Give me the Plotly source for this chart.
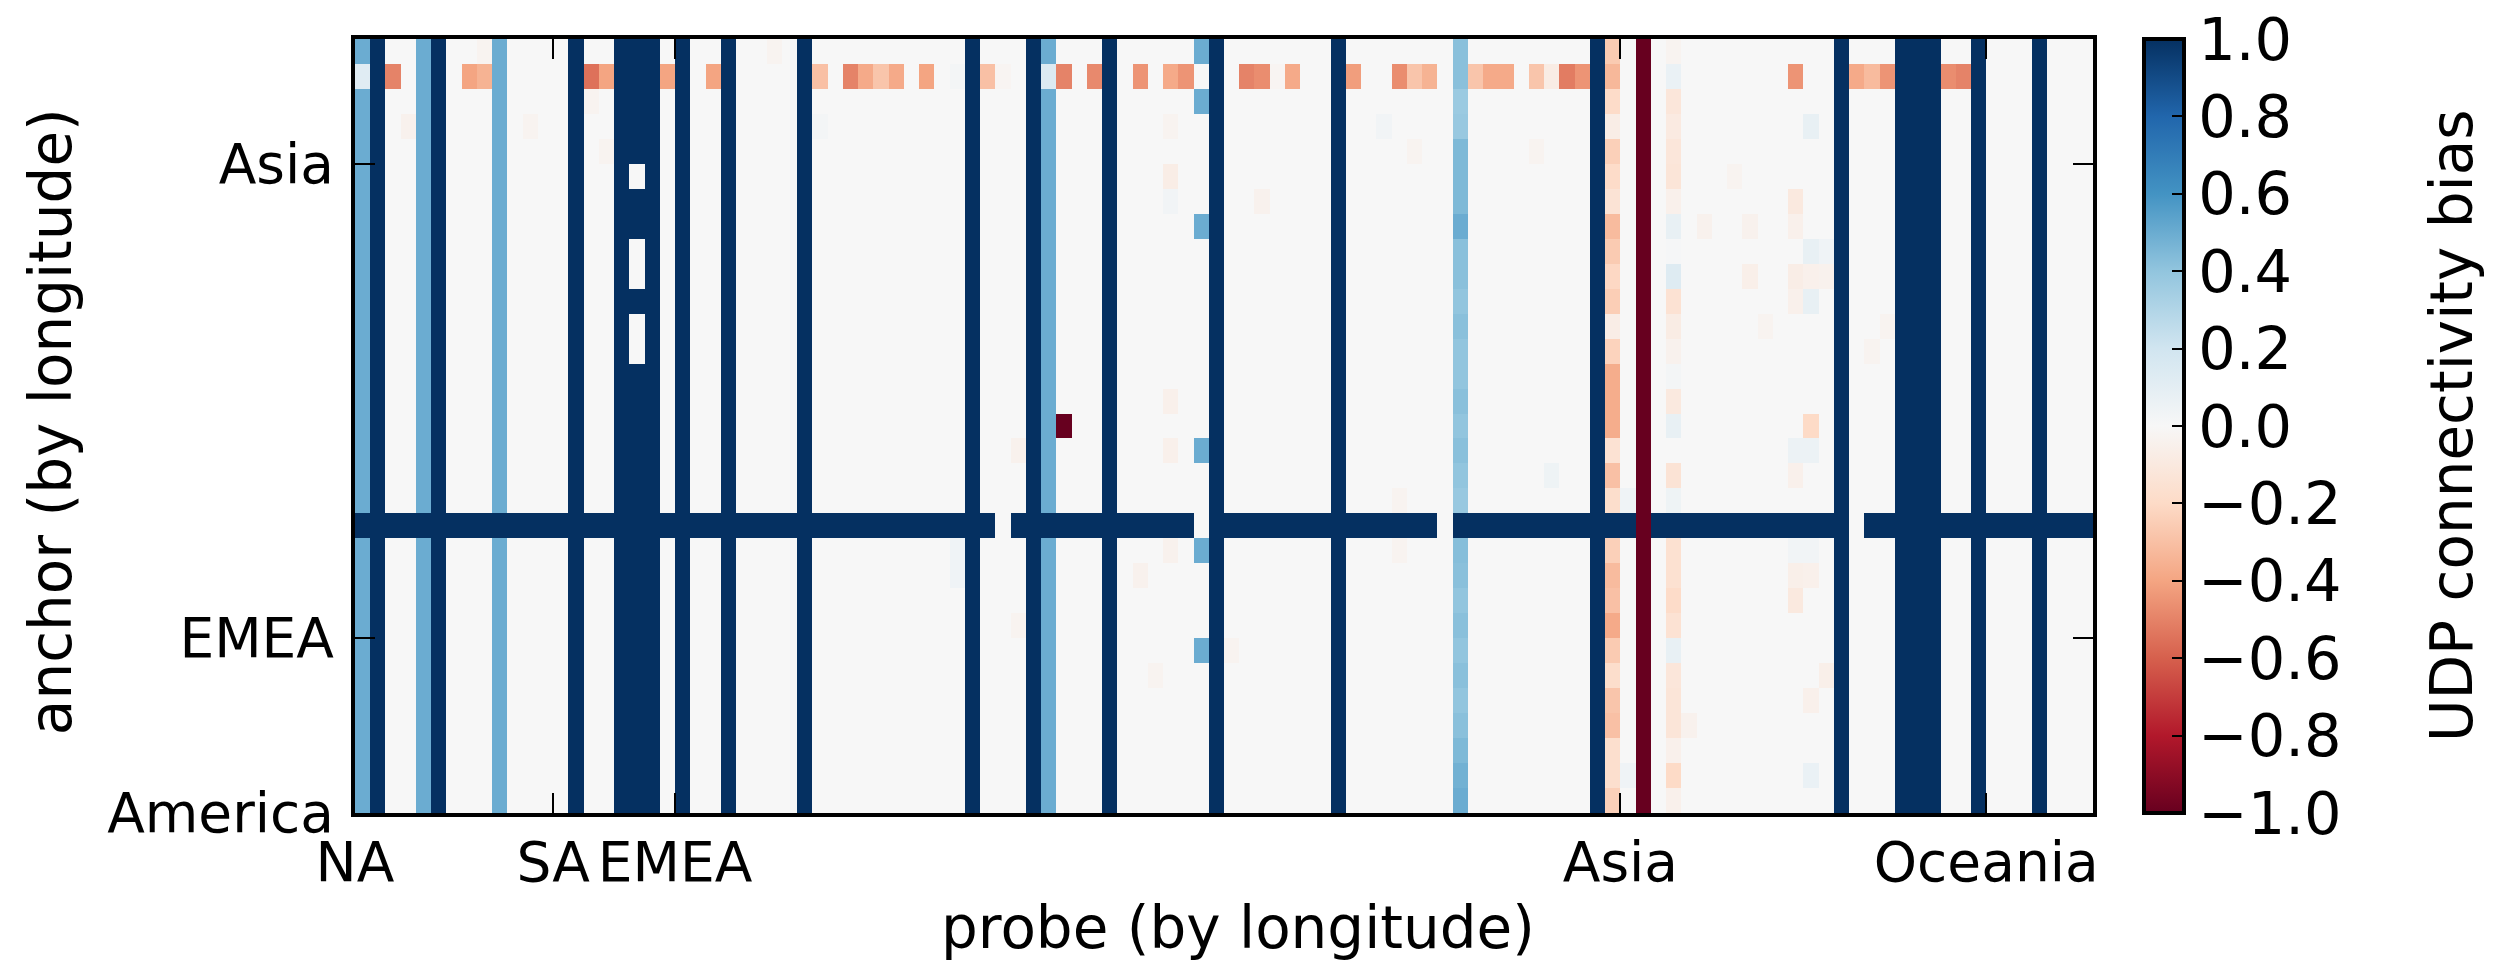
import numpy as np
import plotly.graph_objects as go

# ---------------- data ----------------
n_anchors = 31     # rows (anchor, by longitude), index 0 = bottom
n_probes = 114     # columns (probe, by longitude)

x_tickvals = [0, 13, 21, 83, 107]
x_ticktext = ["NA", "SA", "EMEA", "Asia", "Oceania"]
y_tickvals = [0, 7, 26]
y_ticktext = ["America", "EMEA", "Asia"]
cbar_ticks = [-1.0, -0.8, -0.6, -0.4, -0.2, 0.0, 0.2, 0.4, 0.6, 0.8, 1.0]

# baseline bias of each probe column (same for every anchor unless overridden)
probe_bias = [
    0.5, 1, 0, 0, 0.5, 1, 0, 0, 0, 0.5,          # 0-9
    0, 0, 0, 0, 1, 0, 0, 1, 1, 1,                # 10-19
    0, 1, 0, 0, 1, 0, 0, 0, 0, 1,                # 20-29
    0, 0, 0, 0, 0, 0, 0, 0, 0, 0,                # 30-39
    1, 0, 0, 0, 1, 0.5, 0, 0, 0, 1,              # 40-49
    0, 0, 0, 0, 0, 0, 1, 0, 0, 0,                # 50-59
    0, 0, 0, 0, 1, 0, 0, 0, 0, 0,                # 60-69
    0, 0, 0.42, 0, 0, 0, 0, 0, 0, 0,             # 70-79
    0, 1, -0.25, 0, -1, 0, -0.05, 0, 0, 0,       # 80-89
    0, 0, 0, 0, 0, 0, 0, 1, 0, 0,                # 90-99
    0, 1, 1, 1, 0, 0, 1, 0, 0, 0,                # 100-109
    1, 0, 0, 0,                                  # 110-113
]

# columns whose value changes from anchor to anchor (index = anchor row from bottom)
probe72_by_anchor = [0.5, 0.48, 0.45, 0.42, 0.4, 0.42, 0.4, 0.42, 0.4, 0.42,
                     0.43, 1, 0.38, 0.4, 0.42, 0.4, 0.42, 0.4, 0.4, 0.42,
                     0.4, 0.42, 0.42, 0.5, 0.45, 0.45, 0.45, 0.38, 0.37, 0.42, 0.42]
probe82_by_anchor = [-0.24, -0.17, -0.17, -0.3, -0.28, -0.18, -0.26, -0.38, -0.3, -0.32,
                     -0.24, 1, -0.18, -0.3, -0.15, -0.37, -0.37, -0.37, -0.23, -0.07,
                     -0.25, -0.21, -0.26, -0.32, -0.14, -0.19, -0.24, -0.07, -0.19, -0.33, -0.26]
probe86_by_anchor = [-0.05, -0.2, -0.05, -0.13, -0.13, -0.12, 0.08, -0.15, -0.19, -0.16,
                     -0.16, 1, 0.05, -0.14, 0.0, 0.08, -0.1, 0.02, -0.04, -0.08,
                     -0.15, 0.13, 0.01, 0.08, -0.05, -0.13, -0.12, -0.09, -0.12, 0.07, -0.03]
probe55_blue_anchors = [6, 10, 14, 23, 28, 30]
probe55_blue_value = 0.5

# anchor row 29 (second from top): the orange row
anchor29_bias = [
    0.12, 1, -0.5, 0, 0.5, 1, 0, -0.4, -0.35, 0.5,            # 0-9
    0, 0, 0, 0, 1, -0.55, -0.4, 1, 1, 1,                       # 10-19
    -0.4, 1, 0, -0.4, 1, 0, 0, 0, 0, 1,                        # 20-29
    -0.3, 0, -0.5, -0.38, -0.28, -0.38, 0, -0.4, 0, 0.02,      # 30-39
    1, -0.3, -0.02, 0, 1, 0.14, -0.5, 0, -0.48, 1,             # 40-49
    0, -0.45, 0, -0.38, -0.45, 0, 1, 0, -0.5, -0.47,           # 50-59
    -0.02, -0.38, 0, 0, 1, -0.42, 0, 0, -0.47, -0.28,          # 60-69
    -0.35, 0, 0.42, -0.28, -0.38, -0.38, 0, -0.28, -0.08, -0.52,  # 70-79
    -0.45, 1, -0.33, 0, -1, 0, 0.07, 0, 0, 0,                  # 80-89
    0, 0, 0, 0, -0.45, 0, 0, 1, -0.38, -0.32,                  # 90-99
    -0.45, 1, 1, 1, -0.47, -0.5, 1, 0, 0, 0,                   # 100-109
    1, 0, 0, 0,                                                # 110-113
]

# anchor row 11: an anchor that is fully biased towards UDP
band_anchor = 11
band_value = 1.0
band_exceptions = {42: 0.0, 55: 0.0, 71: 0.0, 84: -1.0, 98: 0.0}

# individual cells (anchor row, probe column, value)
single_cells = [
    (15, 46, -1.0),
    (25, 18, 0.0), (22, 18, 0.0), (21, 18, 0.0), (19, 18, 0.0), (18, 18, 0.0),
    (27, 95, 0.08), (24, 94, -0.1), (22, 95, 0.08), (22, 96, 0.04), (21, 94, -0.07),
    (21, 95, -0.05), (20, 95, 0.08), (15, 95, -0.2), (14, 94, 0.06), (14, 95, 0.06),
    (8, 94, -0.1), (1, 95, 0.07), (3, 87, -0.04), (12, 83, 0.04), (1, 83, 0.04),
    (16, 53, -0.05), (14, 43, -0.04), (14, 53, -0.05), (10, 39, 0.04), (9, 39, 0.04),
    (10, 53, -0.04), (9, 51, -0.04), (7, 43, -0.03), (5, 52, -0.03), (6, 57, -0.03),
    (30, 8, -0.03), (27, 3, -0.04), (27, 11, -0.03), (28, 15, -0.03), (26, 16, -0.03),
    (30, 27, -0.03), (27, 30, 0.02), (24, 53, 0.03), (25, 53, -0.07), (27, 53, -0.03),
    (24, 59, -0.04), (27, 67, 0.03), (26, 69, -0.03), (26, 77, -0.03),
    (23, 88, -0.04), (23, 91, -0.04), (21, 91, -0.06), (25, 90, -0.03), (19, 92, -0.03),
    (23, 94, -0.05), (20, 94, -0.05), (21, 96, -0.04), (19, 100, -0.03), (18, 99, -0.03),
    (13, 94, -0.05), (9, 94, -0.06), (9, 95, -0.05), (10, 94, 0.03), (10, 95, 0.03),
    (5, 96, -0.06), (4, 95, -0.05), (13, 78, 0.05), (12, 68, -0.03), (10, 68, -0.03),
]

# ---------------- assemble the matrix ----------------
z = np.zeros((n_anchors, n_probes))
for c, v in enumerate(probe_bias):
    z[:, c] = v
for r in range(n_anchors):
    z[r, 72] = probe72_by_anchor[r]
    z[r, 82] = probe82_by_anchor[r]
    z[r, 86] = probe86_by_anchor[r]
for r in probe55_blue_anchors:
    z[r, 55] = probe55_blue_value
z[29, :] = anchor29_bias
z[band_anchor, :] = band_value
for c, v in band_exceptions.items():
    z[band_anchor, c] = v
for r, c, v in single_cells:
    z[r, c] = v

x_centers = np.arange(n_probes) + 0.5
y_centers = np.arange(n_anchors) + 0.5

rdbu = [
    [0.0, "#67001f"], [0.1, "#b2182b"], [0.2, "#d6604d"], [0.3, "#f4a582"],
    [0.4, "#fddbc7"], [0.5, "#f7f7f7"], [0.6, "#d1e5f0"], [0.7, "#92c5de"],
    [0.8, "#4393c3"], [0.9, "#2166ac"], [1.0, "#053061"],
]

FONT = "DejaVu Sans"
FS_TICK = 55
FS_TITLE = 58

# pixel geometry of the reference
W, H = 2509, 974
L, R, T, B = 355, 2093, 39, 813
pw, ph = R - L, B - T

fig = go.Figure(go.Heatmap(
    z=z, x=x_centers, y=y_centers,
    zmin=-1, zmax=1, colorscale=rdbu,
    colorbar=dict(
        x=(2144 - L) / pw, xanchor="left", xpad=0,
        y=0.5, yanchor="middle", len=1.0, lenmode="fraction", ypad=0,
        thickness=40, thicknessmode="pixels",
        outlinewidth=4, outlinecolor="black",
        ticks="inside", ticklen=14, tickwidth=2, tickcolor="black",
        tickvals=cbar_ticks, tickformat=".1f",
        tickfont=dict(family=FONT, size=59, color="black"),
    ),
    hoverinfo="skip",
))

axis_common = dict(
    showgrid=False, zeroline=False, automargin=False, tickangle=0,
    showline=True, linewidth=4, linecolor="black", mirror="ticks",
    ticks="inside", ticklen=20, tickwidth=2, tickcolor="black",
    tickfont=dict(family=FONT, size=FS_TICK, color="black"),
)

fig.update_layout(
    width=W, height=H,
    margin=dict(l=L, r=W - R, t=T, b=H - B, pad=0, autoexpand=False),
    paper_bgcolor="white", plot_bgcolor="white",
    xaxis=dict(range=[0, n_probes], tickmode="array", tickvals=x_tickvals,
               ticktext=x_ticktext, ticklabelstandoff=-2, **axis_common),
    yaxis=dict(range=[0, n_anchors], tickmode="array", tickvals=y_tickvals,
               ticktext=y_ticktext, ticklabelstandoff=6, **axis_common),
    annotations=[
        dict(text="probe (by longitude)", xref="paper", yref="paper",
             x=0.508, y=(B - 928) / ph, xanchor="center", yanchor="middle",
             showarrow=False, font=dict(family=FONT, size=FS_TITLE, color="black")),
        dict(text="anchor (by longitude)", xref="paper", yref="paper",
             x=(51 - L) / pw, y=0.505, xanchor="center", yanchor="middle",
             textangle=-90, showarrow=False,
             font=dict(family=FONT, size=FS_TITLE, color="black")),
        dict(text="UDP connectivity bias", xref="paper", yref="paper",
             x=(2452 - L) / pw, y=0.5, xanchor="center", yanchor="middle",
             textangle=-90, showarrow=False,
             font=dict(family=FONT, size=FS_TITLE, color="black")),
    ],
)

fig.write_html("out.html")
